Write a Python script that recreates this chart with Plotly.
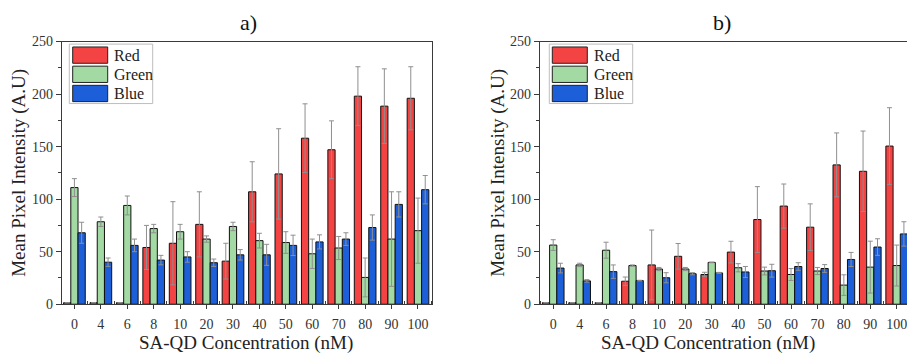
import plotly.graph_objects as go

W, H = 907, 364

categories = ["0", "4", "6", "8", "10", "20", "30", "40", "50", "60", "70", "80", "90", "100"]

# Panel a)
a_red = [1.5, 1.5, 1.5, 54, 58, 76, 41, 107, 124, 158, 147, 198, 188.5, 196]
a_red_err = [0, 0, 0, 21, 39.6, 31, 17, 28.6, 43, 32.7, 27.5, 28, 35.5, 30]
a_green = [111, 78.5, 94, 72, 69, 62, 74, 60.5, 58.7, 48, 53.5, 25.5, 62, 70]
a_green_err = [8.5, 4.5, 9, 4, 7, 3, 4, 7, 10.3, 14, 11, 18.5, 45, 31]
a_blue = [68, 40, 56, 42, 45, 39.5, 47, 47, 56, 59.3, 62, 73, 95, 109]
a_blue_err = [10, 4, 6, 4.5, 5, 3.5, 5, 10, 9.7, 6.7, 6, 12, 12, 13.5]

# Panel b)
b_red = [1.5, 1.5, 1.5, 21.9, 37.4, 45.6, 28.3, 49.6, 80.6, 93.4, 73.3, 132.6, 126.5, 150.5]
b_red_err = [0, 0, 0, 4, 33.2, 12.2, 2.1, 10.3, 31.3, 21, 22.2, 30.4, 38.3, 36.5]
b_green = [56.3, 37.4, 51.4, 36.8, 33.5, 33.5, 39.8, 34.7, 31.6, 28.3, 31.6, 18.2, 35.3, 36.8]
b_green_err = [5.1, 1.6, 7.6, 0.6, 1.5, 1.5, 0.3, 3.9, 3.7, 5.7, 3.4, 9.8, 24.7, 19.5]
b_blue = [34.4, 22.2, 31, 22.5, 25.2, 29, 29.8, 30.7, 31.9, 35.9, 34, 42.6, 54.4, 66.9]
b_blue_err = [4.6, 1.2, 6.4, 0.3, 4.8, 1, 0.5, 5.2, 6.1, 3.6, 3.7, 6.7, 7.9, 11.6]

series_names = ["Red", "Green", "Blue"]
fills = ["#f44343", "#a3d9a3", "#1c5fd8"]

FONT = "Liberation Serif, Times New Roman, serif"
AXIS_COL = "#3a3a3a"
ERR_COL = "#8f8f8f"

fig = go.Figure()
xs = list(range(len(categories)))

panels = [
    ("x", "y", [a_red, a_green, a_blue], [a_red_err, a_green_err, a_blue_err]),
    ("x2", "y2", [b_red, b_green, b_blue], [b_red_err, b_green_err, b_blue_err]),
]
for xa, ya, vals, errs in panels:
    for name, col, v, e in zip(series_names, fills, vals, errs):
        fig.add_trace(go.Bar(
            x=xs, y=v, name=name, xaxis=xa, yaxis=ya, showlegend=False,
            marker=dict(color=col, line=dict(color="#111111", width=1)),
            error_y=dict(type="data", array=e, visible=True, color=ERR_COL,
                         thickness=1, width=2.5),
        ))

def px_x(p):
    return p / W

def px_y(p):
    return 1 - p / H

ydom = [px_y(310), px_y(36)]
common_x = dict(
    tickmode="array", tickvals=xs, ticktext=categories,
    ticks="outside", ticklen=4, tickcolor=AXIS_COL,
    showline=True, linecolor=AXIS_COL, linewidth=1.2,
    showgrid=False, zeroline=False,
    tickfont=dict(family=FONT, size=14, color="#333333"),
    ticklabelstandoff=3, ticklabeloverflow="allow",
    minor=dict(tickmode="linear", tick0=0.5, dtick=1, ticks="inside", ticklen=3, tickcolor=AXIS_COL),
)
common_y = dict(
    range=[0, 250], tickvals=[0, 50, 100, 150, 200, 250],
    ticks="outside", ticklen=5, tickcolor=AXIS_COL,
    showline=True, linecolor=AXIS_COL, linewidth=1.2,
    showgrid=False, zeroline=False,
    tickfont=dict(family=FONT, size=14, color="#333333"),
    minor=dict(tickvals=[25, 75, 125, 175, 225], ticks="outside", ticklen=3, tickcolor=AXIS_COL),
)

fig.update_layout(
    width=W, height=H,
    margin=dict(l=0, r=0, t=0, b=0),
    paper_bgcolor="white", plot_bgcolor="white",
    barmode="group", bargap=0.18, bargroupgap=0,
    xaxis=dict(domain=[px_x(62), px_x(432)], range=[-0.47, 13.53], mirror=True, anchor="y", **common_x),
    yaxis=dict(domain=ydom, anchor="x", mirror=True, **common_y),
    xaxis2=dict(domain=[px_x(540), 1.0], range=[-0.5, 13.39], mirror=True, anchor="y2", **common_x),
    yaxis2=dict(domain=ydom, anchor="x2", mirror=False, **common_y),
    font=dict(family=FONT, color="#222222"),
)

annotations = []
# panel titles
for txt, cx in [("a)", 249), ("b)", 722)]:
    annotations.append(dict(text=txt, x=px_x(cx), y=px_y(16), xref="paper", yref="paper",
                            showarrow=False, font=dict(family=FONT, size=22, color="#111111"),
                            xanchor="center", yanchor="middle"))
# axis titles
for cx in [246, 708]:
    annotations.append(dict(text="SA-QD Concentration (nM)", x=px_x(cx), y=px_y(350),
                            xref="paper", yref="paper", showarrow=False,
                            font=dict(family=FONT, size=19, color="#222222"),
                            xanchor="center", yanchor="middle"))
for cx in [19, 498]:
    annotations.append(dict(text="Mean Pixel Intensity (A.U)", x=px_x(cx), y=px_y(173),
                            xref="paper", yref="paper", showarrow=False, textangle=-90,
                            font=dict(family=FONT, size=19, color="#222222"),
                            xanchor="center", yanchor="middle"))

shapes = []
# custom legends (decoration)
for box_l, box_r, sw_l, sw_r, tx in [(69.3, 152.7, 72.7, 107.7, 112.3), (549.3, 632.7, 552.3, 587.3, 592)]:
    shapes.append(dict(type="rect", xref="paper", yref="paper",
                       x0=px_x(box_l), x1=px_x(box_r), y0=px_y(100.7), y1=px_y(38.7),
                       line=dict(color="#bdbdbd", width=1), fillcolor="white", layer="above"))
    for i, (name, col) in enumerate(zip(series_names, fills)):
        top = 41.7 + 20 * i
        shapes.append(dict(type="rect", xref="paper", yref="paper",
                           x0=px_x(sw_l), x1=px_x(sw_r), y0=px_y(top + 17), y1=px_y(top),
                           line=dict(color="#222222", width=1), fillcolor=col, layer="above"))
        annotations.append(dict(text=name, x=px_x(tx), y=px_y(top + 8.5), xref="paper", yref="paper",
                                showarrow=False, xanchor="left", yanchor="middle",
                                font=dict(family=FONT, size=16, color="#222222")))

fig.update_layout(annotations=annotations, shapes=shapes)
fig.write_html("out.html")
